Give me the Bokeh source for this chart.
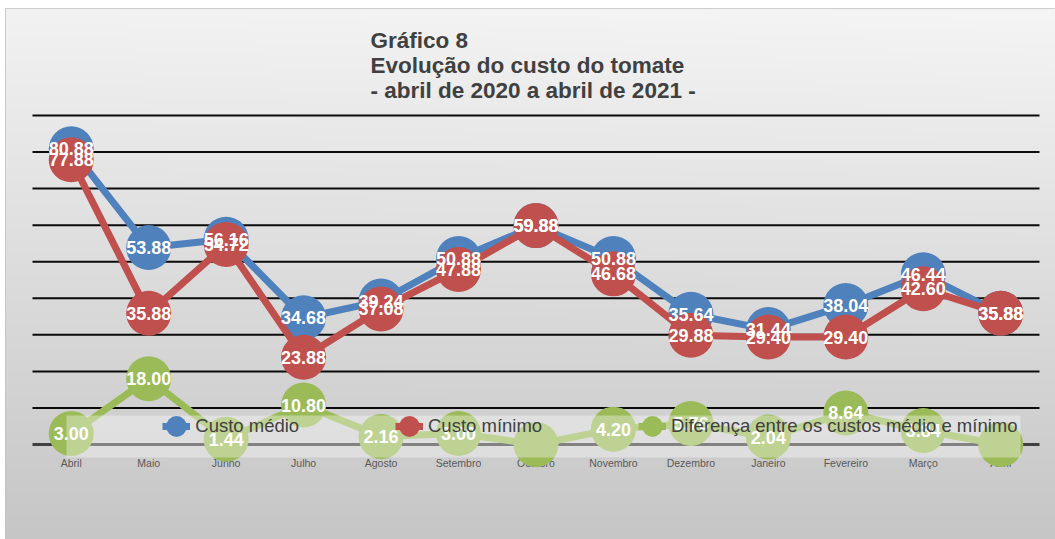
import numpy as np
from bokeh.plotting import figure
from bokeh.models import (ColumnDataSource, Range1d, LinearAxis, FixedTicker, Label,
                          Legend, LegendItem, BoxAnnotation, CDSView, BooleanFilter)
from bokeh.core.properties import value
from bokeh.embed import file_html
from bokeh.resources import INLINE

# ---------------- data ----------------
months = ["Abril", "Maio", "Junho", "Julho", "Agosto", "Setembro", "Outubro",
          "Novembro", "Dezembro", "Janeiro", "Fevereiro", "Março", "Abril"]
custo_medio = [80.88, 53.88, 56.16, 34.68, 39.24, 50.88, 59.88, 50.88, 35.64, 31.44, 38.04, 46.44, 35.88]
custo_minimo = [77.88, 35.88, 54.72, 23.88, 37.08, 47.88, 59.88, 46.68, 29.88, 29.40, 29.40, 42.60, 35.88]
diferenca = [3.00, 18.00, 1.44, 10.80, 2.16, 3.00, 0.00, 4.20, 5.76, 2.04, 8.64, 3.84, 0.00]
series_names = ["Custo médio", "Custo mínimo", "Diferença entre os custos médio e mínimo"]
grid_values = [10, 20, 30, 40, 50, 60, 70, 80, 90]
title_lines = ["Gráfico 8", "Evolução do custo do tomate", "- abril de 2020 a abril de 2021 -"]

# ---------------- layout ----------------
W, H = 1055, 539
FL, FT = 5, 8                # frame left / top on the page
FW, FH = W - FL, H - FT
CAT_PX, CAT0 = 77.46, 70.73  # px per category, page x of first category
VAL_PX, VAL0 = 3.6556, 444.0 # px per unit, page y of value 0

x_start = (FL - CAT0) / CAT_PX
x_end = (W - CAT0) / CAT_PX
y_start = (VAL0 - H) / VAL_PX
y_end = (VAL0 - FT) / VAL_PX

def sx(page_x):
    return page_x - FL

def sy(page_y):
    return H - page_y

FONT = "Liberation Sans"
BLUE, RED, GREEN = "#4F81BD", "#C0504D", "#9BBB59"
colors = [BLUE, RED, GREEN]

p = figure(width=W, height=H, x_range=Range1d(x_start, x_end), y_range=Range1d(y_start, y_end),
           output_backend="svg", toolbar_location=None,
           min_border_left=FL, min_border_top=FT, min_border_right=0, min_border_bottom=0,
           x_axis_type=None, y_axis_type=None)
p.outline_line_color = "#c0c0c0"
p.background_fill_color = "#dddddd"
p.border_fill_color = "white"

# background gradient
ny, nx = 133, 263
ty = np.linspace(0.0, 1.0, ny)[:, None]      # 0 bottom -> 1 top
tx = np.linspace(0.0, 1.0, nx)[None, :]
gray = 198 + 44 * ty + 3 * tx * ty
gray = np.clip(gray, 0, 255).astype(np.uint8)
img = np.empty((ny, nx), dtype=np.uint32)
view = img.view(dtype=np.uint8).reshape((ny, nx, 4))
view[..., 0] = gray
view[..., 1] = gray
view[..., 2] = gray
view[..., 3] = 255
p.image_rgba(image=[img], x=x_start, y=y_start, dw=x_end - x_start, dh=y_end - y_start, level="image")

# gridlines
gsrc = ColumnDataSource(dict(y=grid_values))
p.segment(x0=-0.5, x1=len(months) - 0.5, y0="y", y1="y", source=gsrc,
          line_color="#0a0a0a", line_width=2, level="underlay")

# x axis at value 0
xaxis = LinearAxis(fixed_location=0,
                   ticker=FixedTicker(ticks=list(range(len(months)))),
                   major_label_overrides={i: m for i, m in enumerate(months)},
                   bounds=(-0.5, len(months) - 0.5),
                   axis_line_color="#404040", axis_line_width=3,
                   major_tick_line_color=None, minor_tick_line_color=None,
                   major_tick_out=0, major_tick_in=0,
                   major_label_text_font=FONT, major_label_text_font_size="10.5px",
                   major_label_text_color="#595959", major_label_standoff=12,
                   level="underlay")
p.add_layout(xaxis, "below")

# series
fmt = lambda vals: [f"{v:.2f}" for v in vals]
src = ColumnDataSource(dict(
    x=list(range(len(months))),
    medio=custo_medio, minimo=custo_minimo, dif=diferenca,
    medio_l=fmt(custo_medio), minimo_l=fmt(custo_minimo), dif_l=fmt(diferenca),
))
cols = ["medio", "minimo", "dif"]
line_r, scat_r = [], []
for c, col in zip(colors, cols):
    line_r.append(p.line("x", col, source=src, line_color=c, line_width=7))
    scat_r.append(p.scatter("x", col, source=src, size=45, fill_color=c, line_color=None))

for col in cols:
    kw = {}
    if col == "dif":
        kw["view"] = CDSView(filter=BooleanFilter([v != 0 for v in diferenca]))
    p.text("x", col, text=col + "_l", source=src, text_color="white",
           text_font=value(FONT), text_font_style="bold", text_font_size="18px",
           text_align="center", text_baseline="middle", **kw)

# legend band
p.add_layout(BoxAnnotation(left=sx(66), right=sx(1020), bottom=sy(457), top=sy(415),
                           left_units="screen", right_units="screen",
                           bottom_units="screen", top_units="screen",
                           fill_color="white", fill_alpha=0.35, line_color=None))

# legend items
leg_cy = 426
glyph_x = [162.3, 395, 638]
for k in range(3):
    gx = glyph_x[k]
    p.add_layout(Legend(items=[LegendItem(label=series_names[k], renderers=[line_r[k]])],
                        location=(sx(gx), sy(leg_cy) - 12),
                        glyph_width=28, glyph_height=24, label_height=24, label_standoff=5,
                        padding=0, margin=0, spacing=0,
                        background_fill_alpha=0, border_line_color=None,
                        label_text_font=FONT, label_text_font_size="18.5px",
                        label_text_color="#404040"))
    cx = gx + 14
    p.add_layout(Legend(items=[LegendItem(label=" ", renderers=[scat_r[k]])],
                        location=(sx(cx) - 26, sy(leg_cy) - 26),
                        glyph_width=52, glyph_height=52, label_height=52, label_standoff=0,
                        label_width=0, padding=0, margin=0, spacing=0,
                        background_fill_alpha=0, border_line_color=None,
                        label_text_font_size="2px"))

# title
for i, t in enumerate(title_lines):
    p.add_layout(Label(x=sx(370), y=sy(40 + 25 * i), x_units="screen", y_units="screen",
                       text=t, text_font=FONT, text_font_size="22.5px", text_font_style="bold",
                       text_color="#404040", text_baseline="alphabetic"))

open("out.html", "w").write(file_html(p, INLINE))
